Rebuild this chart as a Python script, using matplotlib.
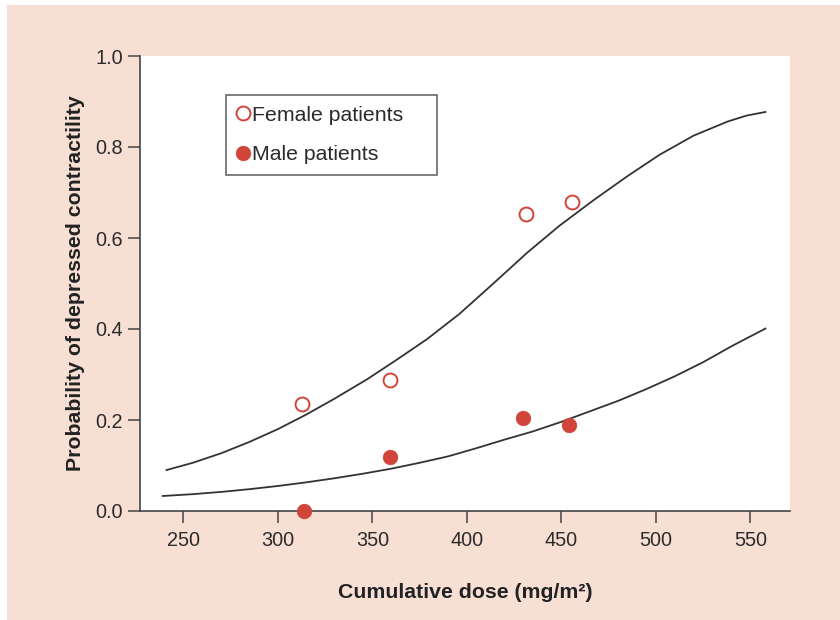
import matplotlib
matplotlib.use("Agg")
import matplotlib.pyplot as plt
from matplotlib.patches import Rectangle

plt.rcParams['font.family'] = ['Liberation Sans', 'DejaVu Sans']

# observed points (dose in mg/m2, probability)
female_dose = [312.7, 359.5, 431.2, 455.4]
female_prob = [0.235, 0.288, 0.652, 0.680]
male_dose = [313.8, 359.5, 429.8, 454.0]
male_prob = [0.0, 0.118, 0.204, 0.189]

# fitted curves
upper_dose = [241, 255, 270, 285, 300, 315, 330, 347, 362, 379, 396, 414,
              432, 449, 467, 485, 502, 520, 538, 548, 558]
upper_prob = [0.090, 0.106, 0.127, 0.152, 0.180, 0.212, 0.247, 0.289, 0.330,
              0.378, 0.433, 0.500, 0.568, 0.627, 0.683, 0.736, 0.783, 0.825,
              0.856, 0.869, 0.877]
lower_dose = [239, 255, 270, 285, 300, 315, 330, 345, 360, 375, 390, 405,
              420, 435, 450, 465, 480, 495, 510, 525, 540, 558]
lower_prob = [0.033, 0.037, 0.042, 0.048, 0.055, 0.063, 0.072, 0.082, 0.093,
              0.106, 0.120, 0.138, 0.157, 0.175, 0.196, 0.219, 0.242, 0.268,
              0.296, 0.327, 0.362, 0.401]

xticks = [250, 300, 350, 400, 450, 500, 550]
yticks = [0.0, 0.2, 0.4, 0.6, 0.8, 1.0]

red = '#d0443a'
dark = '#333333'
peach = '#f7dfd4'

W, H = 840, 620
fig = plt.figure(figsize=(W / 100, H / 100), dpi=100, facecolor='white')
fig.patches.append(Rectangle((7 / W, 0), 1, 1 - 5 / H, transform=fig.transFigure,
                             facecolor=peach, edgecolor='none', zorder=-10))

ax = fig.add_axes([140 / W, 1 - 511 / H, 650 / W, 455 / H])
ax.set_facecolor('white')

ax.plot(upper_dose, upper_prob, color=dark, lw=1.3)
ax.plot(lower_dose, lower_prob, color=dark, lw=1.3)

ax.plot(female_dose, female_prob, 'o', ms=10, mfc='white', mec=red, mew=1.4,
        ls='none', label='Female patients', clip_on=False, zorder=5)
ax.plot(male_dose, male_prob, 'o', ms=10.5, mfc=red, mec=red, mew=0.5,
        ls='none', label='Male patients', clip_on=False, zorder=5)

ax.set_xlim(227, 571)
ax.set_ylim(0, 1)
ax.set_xticks(xticks)
ax.set_yticks(yticks)
ax.set_yticklabels(['%.1f' % t for t in yticks])

for s in ['top', 'right']:
    ax.spines[s].set_visible(False)
for s in ['left', 'bottom']:
    ax.spines[s].set_color('#444444')
    ax.spines[s].set_linewidth(1.2)

ax.tick_params(axis='both', direction='out', length=8.5, width=1.1,
               color='#444444', labelsize=14.3, labelcolor='#2b2b2b', pad=4)
ax.tick_params(axis='x', pad=6)

ax.set_xlabel('Cumulative dose (mg/m²)', fontsize=15.3, fontweight='bold',
              color='#222222', labelpad=24)
ax.set_ylabel('Probability of depressed contractility', fontsize=15.3,
              fontweight='bold', color='#222222', labelpad=7)

# legend box stretched to the width seen in the reference
leg = ax.legend(loc='upper left', bbox_to_anchor=(0.132, 0.734, 0.325, 0.18),
                mode='expand', borderaxespad=0,
                fontsize=15.3, frameon=True, fancybox=False, handlelength=0.6,
                handletextpad=0.15, labelspacing=0.95, borderpad=0.5)
leg.get_frame().set_edgecolor('#333333')
leg.get_frame().set_linewidth(1.1)
for t in leg.get_texts():
    t.set_color('#2b2b2b')

fig.savefig('out.png', dpi=100, facecolor=fig.get_facecolor())
